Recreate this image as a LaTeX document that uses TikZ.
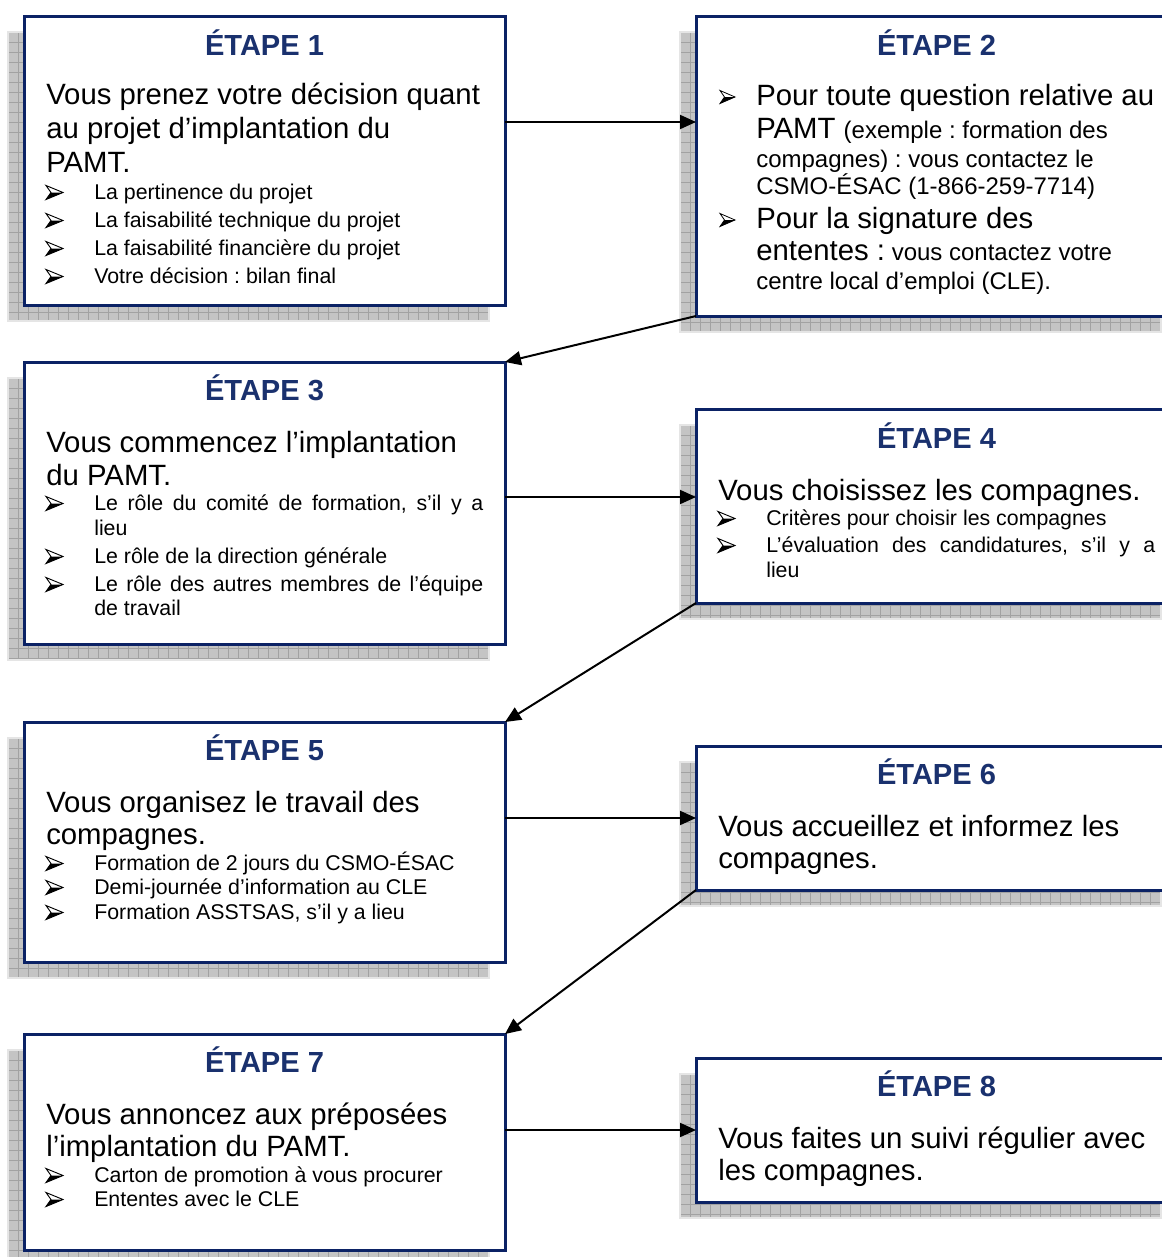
\documentclass[tikz,border=0pt]{standalone}
\usepackage{fontspec}
\setmainfont{Liberation Sans}
\usetikzlibrary{arrows.meta}
\frenchspacing
\definecolor{boxblue}{HTML}{0B2265}
\definecolor{titleblue}{HTML}{1A316E}
\definecolor{shadowfill}{HTML}{C4C4C4}
\definecolor{gridcol}{HTML}{A2A2A2}
\newcommand\fTitle{\fontsize{21.8pt}{25pt}\selectfont\bfseries}
\newcommand\fBig{\fontsize{22pt}{26pt}\selectfont}
\newcommand\fMid{\fontsize{18pt}{21pt}\selectfont}
\newcommand\fBul{\fontsize{16pt}{19pt}\selectfont}
\newcommand\gridshadow[4]{%
  \fill[shadowfill] (#1,#2) rectangle (#3,#4);
  \begin{scope}
    \clip (#1,#2) rectangle (#3,#4);
    \foreach \gx in {0,10,...,500} {\draw[gridcol, line width=0.6pt] ({#1+\gx},#2) -- ({#1+\gx},#4);}
    \foreach \gy in {0,10,...,320} {\draw[gridcol, line width=0.6pt] (#1,{#2+\gy}) -- (#3,{#2+\gy});}
  \end{scope}
  \draw[white!80!gray, line width=0.8pt] (#1,#2) rectangle (#3,#4);
}
\tikzset{
  stepbox/.style={draw=boxblue, line width=2.25pt, fill=white, rectangle, inner sep=0pt, outer sep=0pt, anchor=north west, minimum width=360.75pt},
  ttl/.style={font=\fTitle, text=titleblue, anchor=base, inner sep=0pt},
  big/.style={font=\fBig, anchor=base west, inner sep=0pt},
  mid/.style={font=\fMid, anchor=base west, inner sep=0pt},
  bul/.style={font=\fBul, anchor=base west, inner sep=0pt},
  conn/.style={line width=1.5pt, -{Triangle[length=12pt,width=10.5pt]}},
  abul/.pic={
    \draw[line width=0.7pt, line join=miter, fill=white] (0,-7) -- (17,0) -- (0,7) -- (5,0) -- cycle;
    \fill (5,0) -- (17,0) -- (0,7) -- cycle;
  },
  abulsmall/.pic={
    \draw[line width=0.6pt, line join=miter, fill=white] (0,-6.5) -- (15,0) -- (0,6.5) -- (4.5,0) -- cycle;
    \fill (4.5,0) -- (15,0) -- (0,6.5) -- cycle;
  }
}
\newcommand\just[1]{\makebox[291.75pt][s]{#1}}
\begin{document}
\begin{tikzpicture}[x=0.75pt,y=-0.75pt]
\useasboundingbox (0,0) rectangle (1162,1257);
% shadows
\gridshadow{8}{32}{489}{321}
\gridshadow{680}{32}{1161}{332}
\gridshadow{8}{378}{489}{660}
\gridshadow{680}{425}{1161}{619}
\gridshadow{8}{738}{489}{978}
\gridshadow{680}{762}{1161}{906}
\gridshadow{8}{1050}{489}{1266}
\gridshadow{680}{1074}{1161}{1218}
% boxes
\node[stepbox, minimum height=216.75pt] (b1) at (24,16) {};
\node[stepbox, minimum height=225pt] (b2) at (696,16) {};
\node[stepbox, minimum height=211.5pt] (b3) at (24,362) {};
\node[stepbox, minimum height=145.5pt] (b4) at (696,409) {};
\node[stepbox, minimum height=180pt] (b5) at (24,722) {};
\node[stepbox, minimum height=108pt] (b6) at (696,746) {};
\node[stepbox, minimum height=162pt] (b7) at (24,1034) {};
\node[stepbox, minimum height=108pt] (b8) at (696,1058) {};
% box 1
\node[ttl] (t1) at (264.5,55) {ÉTAPE 1};
\node[big] (m1a) at (46,104) {Vous prenez votre décision quant};
\node[big] (m1b) at (46,138) {au projet d’implantation du};
\node[big] (m1c) at (46,172) {PAMT.};
\pic at (46,192.5) {abul};
\node[bul] (p1a) at (94,199) {La pertinence du projet};
\pic at (46,220.5) {abul};
\node[bul] (p1b) at (94,227) {La faisabilité technique du projet};
\pic at (46,248.5) {abul};
\node[bul] (p1c) at (94,255) {La faisabilité financière du projet};
\pic at (46,276.5) {abul};
\node[bul] (p1d) at (94,283) {Votre décision : bilan final};
% box 2
\node[ttl] (t2) at (936.5,55) {ÉTAPE 2};
\pic at (720,97) {abulsmall};
\node[big] (m2a) at (756,105) {Pour toute question relative au};
\node[big] (m2b) at (756,138) {PAMT {\fMid(exemple : formation des}};
\node[mid] (m2c) at (756,167) {compagnes) : vous contactez le};
\node[mid] (m2d) at (756,194) {CSMO-ÉSAC (1-866-259-7714)};
\pic at (720,220) {abulsmall};
\node[big] (m2e) at (756,228) {Pour la signature des};
\node[big] (m2f) at (756,260) {ententes :{\fMid{} vous contactez votre}};
\node[mid] (m2g) at (756,289) {centre local d’emploi (CLE).};
% box 3
\node[ttl] (t3) at (264.5,400) {ÉTAPE 3};
\node[big] (m3a) at (46,452) {Vous commencez l’implantation};
\node[big] (m3b) at (46,485) {du PAMT.};
\pic at (46,503.5) {abul};
\node[bul] (p3a) at (94,510) {\just{Le rôle du comité de formation, s’il y a}};
\node[bul] (p3b) at (94,535) {lieu};
\pic at (46,556.5) {abul};
\node[bul] (p3c) at (94,563) {Le rôle de la direction générale};
\pic at (46,584.5) {abul};
\node[bul] (p3d) at (94,591) {\just{Le rôle des autres membres de l’équipe}};
\node[bul] (p3e) at (94,615) {de travail};
% box 4
\node[ttl] (t4) at (936.5,448) {ÉTAPE 4};
\node[big] (m4a) at (718,500) {Vous choisissez les compagnes.};
\pic at (718,518.5) {abul};
\node[bul] (p4a) at (766,525) {Critères pour choisir les compagnes};
\pic at (718,545.5) {abul};
\node[bul] (p4b) at (766,552) {\just{L’évaluation des candidatures, s’il y a}};
\node[bul] (p4c) at (766,577) {lieu};
% box 5
\node[ttl] (t5) at (264.5,760) {ÉTAPE 5};
\node[big] (m5a) at (46,812) {Vous organisez le travail des};
\node[big] (m5b) at (46,844) {compagnes.};
\pic at (46,863.5) {abul};
\node[bul] (p5a) at (94,870) {Formation de 2 jours du CSMO-ÉSAC};
\pic at (46,887.5) {abul};
\node[bul] (p5b) at (94,894) {Demi-journée d’information au CLE};
\pic at (46,912.5) {abul};
\node[bul] (p5c) at (94,919) {Formation ASSTSAS, s’il y a lieu};
% box 6
\node[ttl] (t6) at (936.5,784) {ÉTAPE 6};
\node[big] (m6a) at (718,836) {Vous accueillez et informez les};
\node[big] (m6b) at (718,868) {compagnes.};
% box 7
\node[ttl] (t7) at (264.5,1072) {ÉTAPE 7};
\node[big] (m7a) at (46,1124) {Vous annoncez aux préposées};
\node[big] (m7b) at (46,1156) {l’implantation du PAMT.};
\pic at (46,1175.5) {abul};
\node[bul] (p7a) at (94,1182) {Carton de promotion à vous procurer};
\pic at (46,1199.5) {abul};
\node[bul] (p7b) at (94,1206) {Ententes avec le CLE};
% box 8
\node[ttl] (t8) at (936.5,1096) {ÉTAPE 8};
\node[big] (m8a) at (718,1148) {Vous faites un suivi régulier avec};
\node[big] (m8b) at (718,1180) {les compagnes.};
% connectors
\draw[conn] (b1.east |- 0,122) -- (b2.west |- 0,122);
\draw[conn] (b2.south west) -- (b3.north east);
\draw[conn] (b3.east |- 0,497) -- (b4.west |- 0,497);
\draw[conn] (b4.south west) -- (b5.north east);
\draw[conn] (b5.east |- 0,818) -- (b6.west |- 0,818);
\draw[conn] (b6.south west) -- (b7.north east);
\draw[conn] (b7.east |- 0,1130) -- (b8.west |- 0,1130);
\end{tikzpicture}
\end{document}
